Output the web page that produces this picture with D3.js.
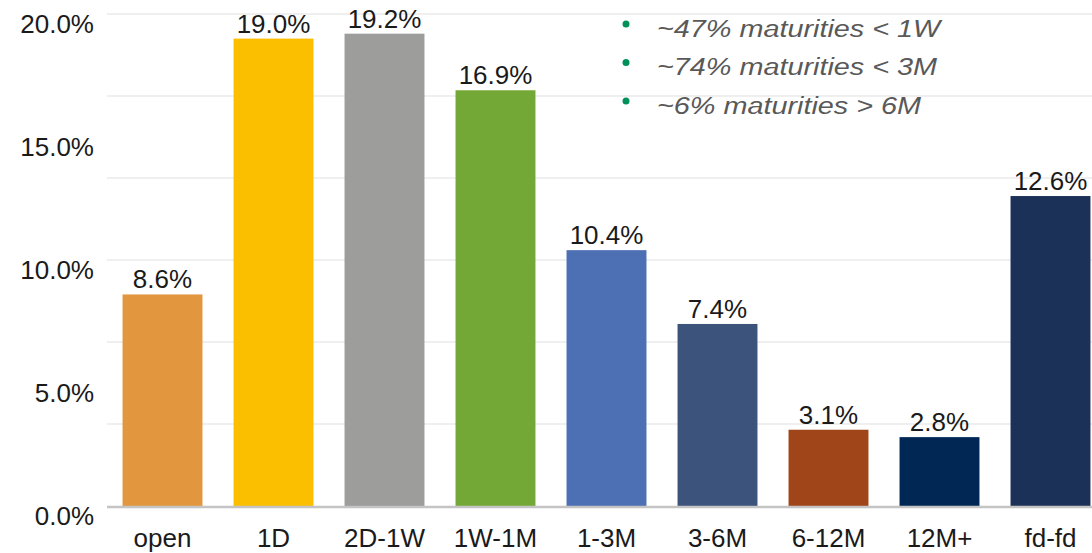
<!DOCTYPE html>
<html>
<head>
<meta charset="utf-8">
<script src="https://cdn.jsdelivr.net/npm/d3@7"></script>
<style>
  html, body { margin: 0; padding: 0; background: #fff; }
  svg { display: block; font-family: "Liberation Sans", Arial, sans-serif; }
</style>
</head>
<body>
<svg id="chart" width="1092" height="553"></svg>
<script>
// Maturity buckets and their share of the total
const categories = ["open", "1D", "2D-1W", "1W-1M", "1-3M", "3-6M", "6-12M", "12M+", "fd-fd"];
const shares = [8.6, 19.0, 19.2, 16.9, 10.4, 7.4, 3.1, 2.8, 12.6];
const barColors = ["#E2963E", "#FCBF00", "#9D9D9C", "#74A836", "#4D6FB4", "#3C537B", "#A04519", "#012855", "#1C3157"];
const yTicks = [0, 5, 10, 15, 20];
const notes = ["~47% maturities < 1W", "~74% maturities < 3M", "~6% maturities > 6M"];

const svg = d3.select("#chart");
const W = 1092;
const plotLeft = 107, baseY = 506, topY = 14;
const labelSize = 26;
const stretch = 1.2;    // wide face for the notes

const x = d3.scaleBand()
  .domain(categories)
  .range([plotLeft, plotLeft + 111 * 9])
  .paddingInner(0.28)
  .paddingOuter(0.14);

const y = d3.scaleLinear().domain([0, 20]).range([baseY, topY]);

// light horizontal rules, six equal divisions of the plot height
const gridVals = d3.range(1, 7).map(i => i * 20 / 6);
svg.append("g")
  .selectAll("line")
  .data(gridVals)
  .join("line")
  .attr("x1", plotLeft).attr("x2", W)
  .attr("y1", d => y(d)).attr("y2", d => y(d))
  .attr("stroke", "#efefef").attr("stroke-width", 2);

// y-axis labels
const yAxis = d3.axisLeft(y).tickValues(yTicks).tickFormat(d => d.toFixed(1) + "%").tickSize(0);
const yg = svg.append("g").attr("transform", `translate(${plotLeft},0)`).call(yAxis);
yg.select(".domain").remove();
yg.selectAll("text")
  .attr("font-size", labelSize).attr("fill", "#1a1a1a")
  .attr("font-family", "Liberation Sans, Arial, sans-serif")
  .attr("x", -13).attr("y", 18).attr("dy", null);

// bars
svg.append("g")
  .selectAll("rect")
  .data(shares)
  .join("rect")
  .attr("x", (d, i) => x(categories[i]))
  .attr("width", x.bandwidth())
  .attr("y", d => y(d))
  .attr("height", d => baseY - y(d))
  .attr("fill", (d, i) => barColors[i]);

// baseline
svg.append("line")
  .attr("x1", plotLeft).attr("x2", W)
  .attr("y1", baseY + 1).attr("y2", baseY + 1)
  .attr("stroke", "#c4c4c4").attr("stroke-width", 2.5);

// value labels
svg.append("g")
  .selectAll("text")
  .data(shares)
  .join("text")
  .attr("x", (d, i) => x(categories[i]) + x.bandwidth() / 2)
  .attr("y", d => y(d) - 6)
  .attr("text-anchor", "middle")
  .attr("font-size", labelSize)
  .attr("fill", "#1a1a1a")
  .text(d => d.toFixed(1) + "%");

// x-axis labels
const xAxis = d3.axisBottom(x).tickSize(0);
const xg = svg.append("g").attr("transform", `translate(0,${baseY})`).call(xAxis);
xg.select(".domain").remove();
xg.selectAll("text")
  .attr("font-size", labelSize).attr("fill", "#1a1a1a")
  .attr("font-family", "Liberation Sans, Arial, sans-serif")
  .attr("y", 41).attr("dy", null);

// bullet notes
const noteG = svg.append("g").attr("transform", "translate(626,0)");
notes.forEach((t, i) => {
  const base = 36.5 + i * 38.5;
  noteG.append("circle").attr("cx", 0).attr("cy", base - 12.5).attr("r", 3.5).attr("fill", "#00915A");
  noteG.append("text")
    .attr("transform", `translate(31,${base}) scale(${stretch},1)`)
    .attr("font-size", 24).attr("font-style", "italic")
    .attr("fill", "#595959")
    .text(t);
});
</script>
</body>
</html>
